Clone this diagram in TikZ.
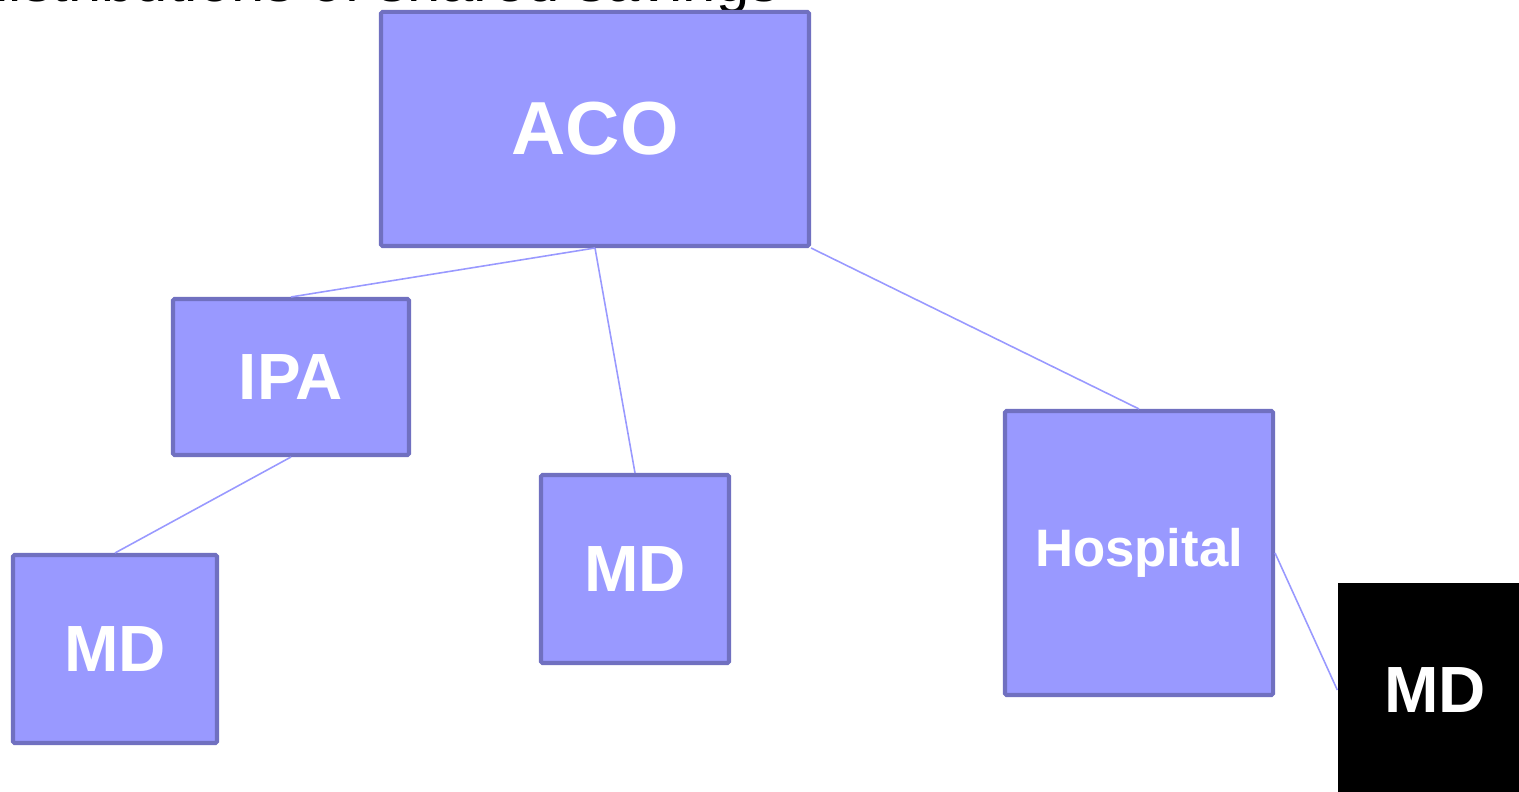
\documentclass[tikz,border=0pt]{standalone}
\usepackage{fontspec}
\setmainfont{Liberation Sans}
\usetikzlibrary{positioning}
\definecolor{boxfill}{HTML}{9999FF}
\definecolor{boxline}{HTML}{7070C0}
\tikzset{
	orgbox/.style={draw=boxline, fill=boxfill, line width=1.15pt, rounded corners=0.4pt, inner sep=0pt, text=white, font=\bfseries\fontsize{18.6}{20}\selectfont},
	mdblack/.style={fill=black, draw=none, inner sep=0pt, text=white, font=\bfseries\fontsize{18.6}{20}\selectfont},
	orglink/.style={draw=boxfill, line width=0.45pt}
}

\begin{document}
\begin{tikzpicture}
			%%%%% START %%%%%
			
			\useasboundingbox (0, 0) rectangle (15.19, 7.92);
			\clip (0, 0) rectangle (15.19, 7.92);
			
			\node[anchor=base east, inner sep=0pt, font=\fontsize{17}{20}\selectfont] (title) at (7.80, 7.905) {distributions of shared savings};
			
			\node[orgbox, minimum width=4.28cm, minimum height=2.34cm, font=\bfseries\fontsize{21.4}{24}\selectfont] (aco) at (5.95, 6.63) {ACO};
			\node[orgbox, minimum width=2.36cm, minimum height=1.56cm] (ipa) at (2.91, 4.15) {IPA};
			\node[orgbox, minimum width=2.04cm, minimum height=1.88cm] (mdipa) at (1.15, 1.43) {MD};
			\node[orgbox, minimum width=1.88cm, minimum height=1.88cm] (mdaco) at (6.35, 2.23) {MD};
			\node[orgbox, minimum width=2.68cm, minimum height=2.84cm, font=\bfseries\fontsize{15}{18}\selectfont] (hosp) at (11.39, 2.39) {Hospital};
			\node[mdblack, minimum width=1.94cm, minimum height=2.14cm] (mdhosp) at (14.35, 1.02) {MD};
			
			\draw[orglink] (aco.south) -- (ipa.north);
			\draw[orglink] (aco.south) -- (mdaco.north);
			\draw[orglink] (aco.south east) -- (hosp.north);
			\draw[orglink] (ipa.south) -- (mdipa.north);
			\draw[orglink] (hosp.east) -- (mdhosp.west);
			
			%%%%% END %%%%%
\end{tikzpicture}
\end{document}
